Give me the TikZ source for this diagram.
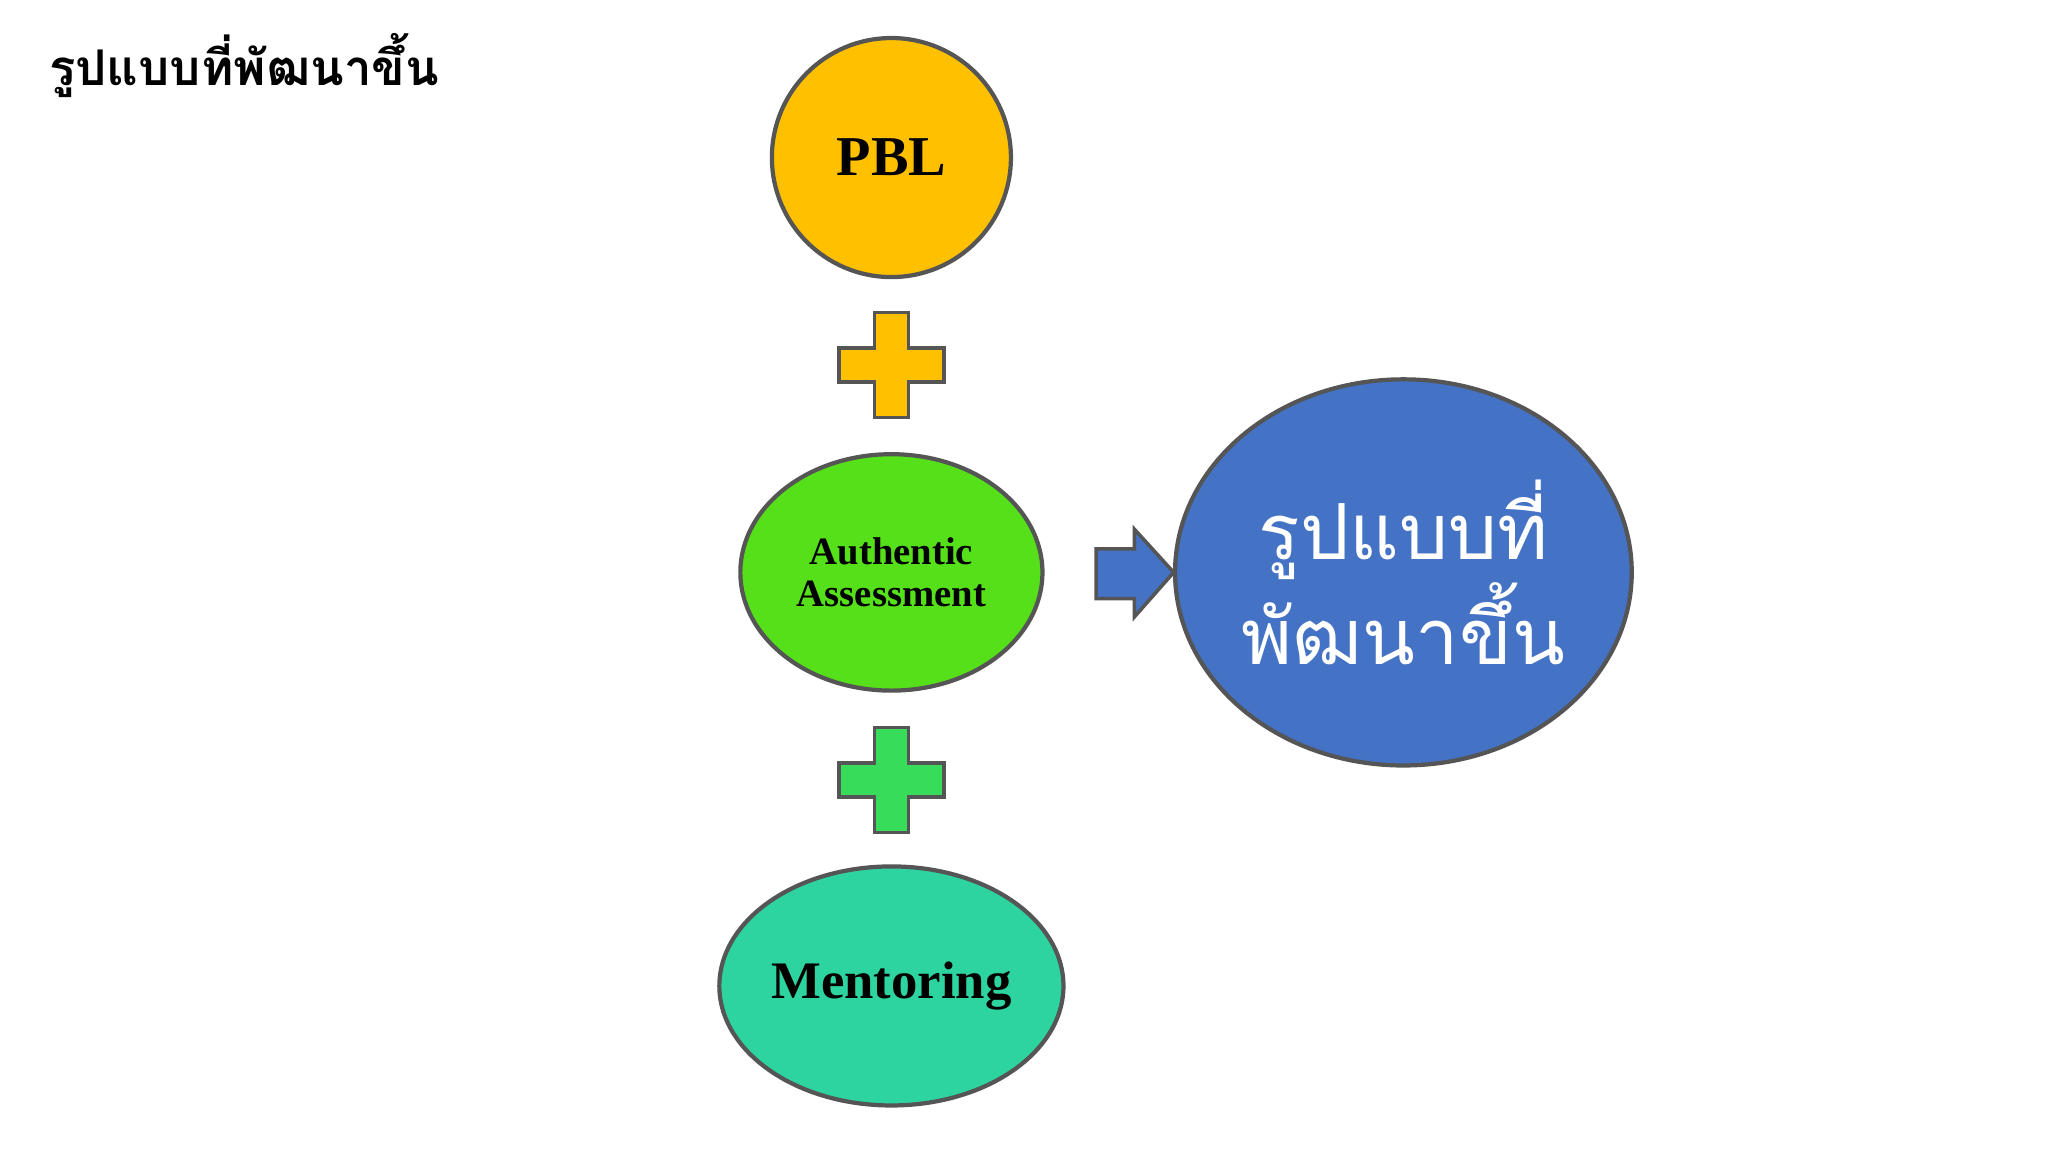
\documentclass[tikz,border=0pt]{standalone}
\usepackage{fontspec}
\setmainfont{Liberation Serif}
\newfontfamily\thaifont[Script=Thai]{Loma}
\usetikzlibrary{shapes.geometric}
\definecolor{cOr}{HTML}{FFC000}
\definecolor{cGr}{HTML}{55E01A}
\definecolor{cPl}{HTML}{36DC5A}
\definecolor{cTe}{HTML}{2DD4A0}
\definecolor{cBl}{HTML}{4472C4}
\definecolor{cBd}{HTML}{555555}
\tikzset{
  blob/.style={ellipse, draw=cBd, line width=1.2pt, inner sep=0pt},
  plusbox/.style={draw=cBd, line width=1pt},
}
\begin{document}
\begin{tikzpicture}[x=0.013128cm,y=-0.013128cm]
\useasboundingbox (0,0) rectangle (1560,877.5);
\node[anchor=west] (title) at (28,50) {\thaifont\bfseries\fontsize{14}{16}\selectfont รูปแบบที่พัฒนาขึ้น};
\node[blob, fill=cOr, minimum width=182*0.13128cm/10, minimum height=182*0.13128cm/10] (pbl) at (679,120) {\bfseries\fontsize{16}{18}\selectfont PBL};
\node[blob, fill=cGr, minimum width=230*0.13128cm/10, minimum height=180*0.13128cm/10, align=center] (auth) at (679,436) {\bfseries\fontsize{11}{17.5}\selectfont Authentic\\ \bfseries\fontsize{11}{17.5}\selectfont Assessment};
\node[blob, fill=cTe, minimum width=262*0.13128cm/10, minimum height=182*0.13128cm/10] (ment) at (679,751) {\bfseries\fontsize{15}{18}\selectfont Mentoring};
\node[blob, fill=cBl, minimum width=302*0.13128cm/10, minimum height=294*0.13128cm/10, align=center, text=white] (res) at (1069,436) {\thaifont\fontsize{22}{27}\selectfont รูปแบบที่\\ \thaifont\fontsize{22}{27}\selectfont พัฒนาขึ้น};
\coordinate (p1) at (679,278);
\coordinate (p2) at (679,594);
\foreach \c/\col in {p1/cOr,p2/cPl}{
  \draw[plusbox, fill=\col, shift={(\c)}] (-13,-40) -- (13,-40) -- (13,-13) -- (40,-13) -- (40,13) -- (13,13) -- (13,40) -- (-13,40) -- (-13,13) -- (-40,13) -- (-40,-13) -- (-13,-13) -- cycle;
}
\coordinate (arr) at (835,436);
\draw[plusbox, fill=cBl, shift={(arr)}] (0,-18) -- (29,-18) -- (29,-33) -- (59,0) -- (29,34) -- (29,20) -- (0,20) -- cycle;
\end{tikzpicture}
\end{document}
